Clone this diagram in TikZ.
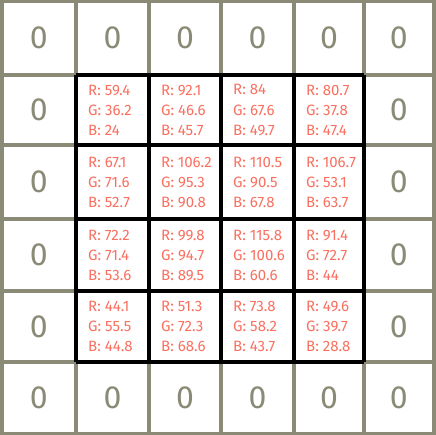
\documentclass[tikz,border=0pt]{standalone}
\usepackage{fontspec}
\setmainfont{Fira Sans}
\usepackage{tikz}
\definecolor{gridgray}{RGB}{138,138,118}
\definecolor{valred}{RGB}{250,112,96}
\tikzset{gridline/.style={gridgray,line width=4pt},
    boxline/.style={black,line width=4pt},
    zero/.style={gridgray,font=\fontsize{32}{36}\selectfont},
    rgbval/.style={valred,anchor=west,align=left,inner sep=0pt,font=\fontsize{15}{20}\selectfont}
}

\begin{document}
\begin{tikzpicture}[x=1pt,y=-1pt]
           \useasboundingbox (0,0) rectangle (435,435);
           \fill[white] (0,0) rectangle (435,435);
           % padding grid
           \foreach \x in {1.5,76,149,221,294,364,433.5}
              \draw[gridline] (\x,0) -- (\x,435);
           \foreach \y in {1.5,75,145,219,291,362,433.5}
              \draw[gridline] (0,\y) -- (435,\y);
           % zero padding
           \foreach \x [count=\i] in {38.75,112.5,185,257.5,329,398.75} {
              \node[zero] (top\i) at (\x,38) {0};
              \node[zero] (bot\i) at (\x,397.5) {0};
           }
           \foreach \y [count=\i] in {110,182,255,326.5} {
              \node[zero] (left\i) at (38.75,\y) {0};
              \node[zero] (right\i) at (398.75,\y) {0};
           }
           % image pixels
           \foreach \x in {76,149,221,294,364}
              \draw[boxline] (\x,75) -- (\x,362);
           \foreach \y in {75,145,219,291,362}
              \draw[boxline] (76,\y) -- (364,\y);
           \foreach \n/\x/\y/\R/\G/\B in {
              px11/88/110/59.4/36.2/24, px12/161/110/92.1/46.6/45.7,
              px13/233/110/84/67.6/49.7, px14/306/110/80.7/37.8/47.4,
              px21/88/182/67.1/71.6/52.7, px22/161/182/106.2/95.3/90.8,
              px23/233/182/110.5/90.5/67.8, px24/306/182/106.7/53.1/63.7,
              px31/88/255/72.2/71.4/53.6, px32/161/255/99.8/94.7/89.5,
              px33/233/255/115.8/100.6/60.6, px34/306/255/91.4/72.7/44,
              px41/88/326.5/44.1/55.5/44.8, px42/161/326.5/51.3/72.3/68.6,
              px43/233/326.5/73.8/58.2/43.7, px44/306/326.5/49.6/39.7/28.8}
              \node[rgbval] (\n) at (\x,\y) {R: \R\\G: \G\\B: \B};
\end{tikzpicture}
\end{document}
